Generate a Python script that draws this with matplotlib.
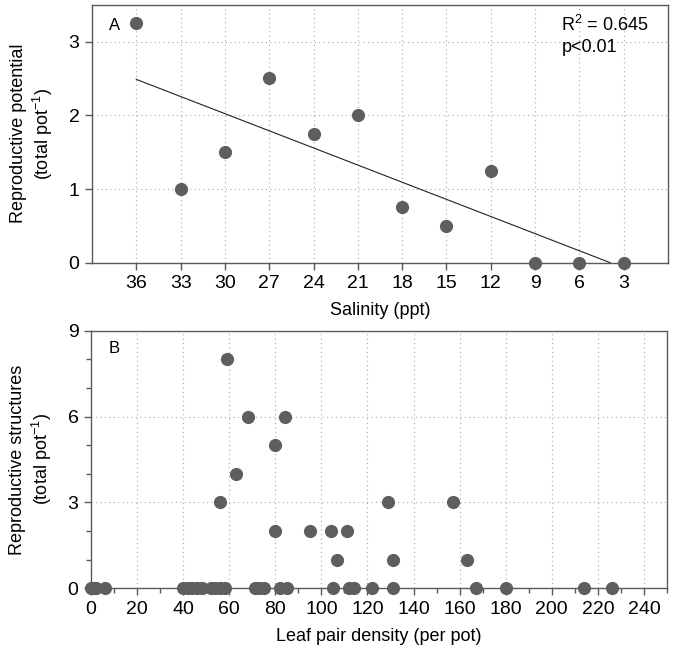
import numpy as np
import matplotlib
matplotlib.use('Agg')
import matplotlib.pyplot as plt
from matplotlib.ticker import MultipleLocator

plt.rcParams['font.family'] = ['Liberation Sans', 'DejaVu Sans']
plt.rcParams['mathtext.fontset'] = 'custom'
plt.rcParams['mathtext.rm'] = 'Liberation Sans'
plt.rcParams['mathtext.it'] = 'Liberation Sans:italic'

# panel A: reproductive potential vs salinity
salinity = [36, 33, 30, 27, 24, 21, 18, 15, 12, 9, 6, 3]
potential = [3.25, 1.0, 1.5, 2.5, 1.75, 2.0, 0.75, 0.5, 1.25, 0, 0, 0]

# panel B: reproductive structures vs leaf pair density
density = [0, 1, 2, 6, 40, 42, 44, 46, 48, 52, 54, 56, 58, 71, 73, 75, 82, 85,
           105, 112, 114, 122, 131, 167, 180, 214, 226,
           59, 68, 84, 80, 63, 56, 129, 157, 80, 95, 104, 111, 107, 131, 163]
structures = [0]*27 + [8, 6, 6, 5, 4, 3, 3, 3, 2, 2, 2, 2, 1, 1, 1]

dot = '#5e5e5e'
spine_c = '#5a5a5a'

fig = plt.figure(figsize=(6.73, 6.56), dpi=100)
axA = fig.add_axes([0.1367, 0.5995, 0.8559, 0.3933])
axB = fig.add_axes([0.1352, 0.1032, 0.8558, 0.3927])

for ax in (axA, axB):
    for s in ax.spines.values():
        s.set_color(spine_c)
        s.set_linewidth(1.0)
    ax.grid(True, which='major', linestyle=(0, (1, 3)), color='#a8a8a8', linewidth=0.8)
    ax.set_axisbelow(True)
    ax.tick_params(which='major', direction='out', length=5, width=1, color=spine_c,
                   labelsize=14, pad=4)
    ax.tick_params(which='minor', direction='out', length=3.5, width=1, color=spine_c)

# ---- A
axA.scatter(salinity, potential, s=90, color=dot, zorder=3, clip_on=False, linewidths=0)
slope, icpt = np.polyfit(salinity, potential, 1)
xs = np.array([salinity[0], -icpt / slope])
axA.plot(xs, slope * xs + icpt, color='#222222', linewidth=0.8, zorder=2)
axA.set_xlim(39, 0)
axA.set_ylim(0, 3.5)
axA.set_xticks(salinity)
axA.set_yticks([0, 1, 2, 3])
axA.set_xlabel('Salinity (ppt)', fontsize=13, labelpad=7)
axA.set_ylabel('Reproductive potential\n(total pot$^{-1}$)', fontsize=13, labelpad=10)
axA.text(0.03, 0.92, 'A', transform=axA.transAxes, fontsize=12, va='center')
axA.text(0.815, 0.92, 'R$^2$ = 0.645', transform=axA.transAxes, fontsize=13, va='center')
axA.text(0.815, 0.835, 'p<0.01', transform=axA.transAxes, fontsize=13, va='center')

# ---- B
axB.scatter(density, structures, s=90, color=dot, zorder=3, clip_on=False, linewidths=0)
axB.set_xlim(0, 250)
axB.set_ylim(0, 9)
axB.xaxis.set_major_locator(MultipleLocator(20))
axB.xaxis.set_minor_locator(MultipleLocator(10))
axB.yaxis.set_major_locator(MultipleLocator(3))
axB.yaxis.set_minor_locator(MultipleLocator(1))
axB.set_xlabel('Leaf pair density (per pot)', fontsize=13, labelpad=7)
axB.set_ylabel('Reproductive structures\n(total pot$^{-1}$)', fontsize=13, labelpad=10)
axB.text(0.03, 0.93, 'B', transform=axB.transAxes, fontsize=12, va='center')

fig.savefig('out.png', dpi=100)
